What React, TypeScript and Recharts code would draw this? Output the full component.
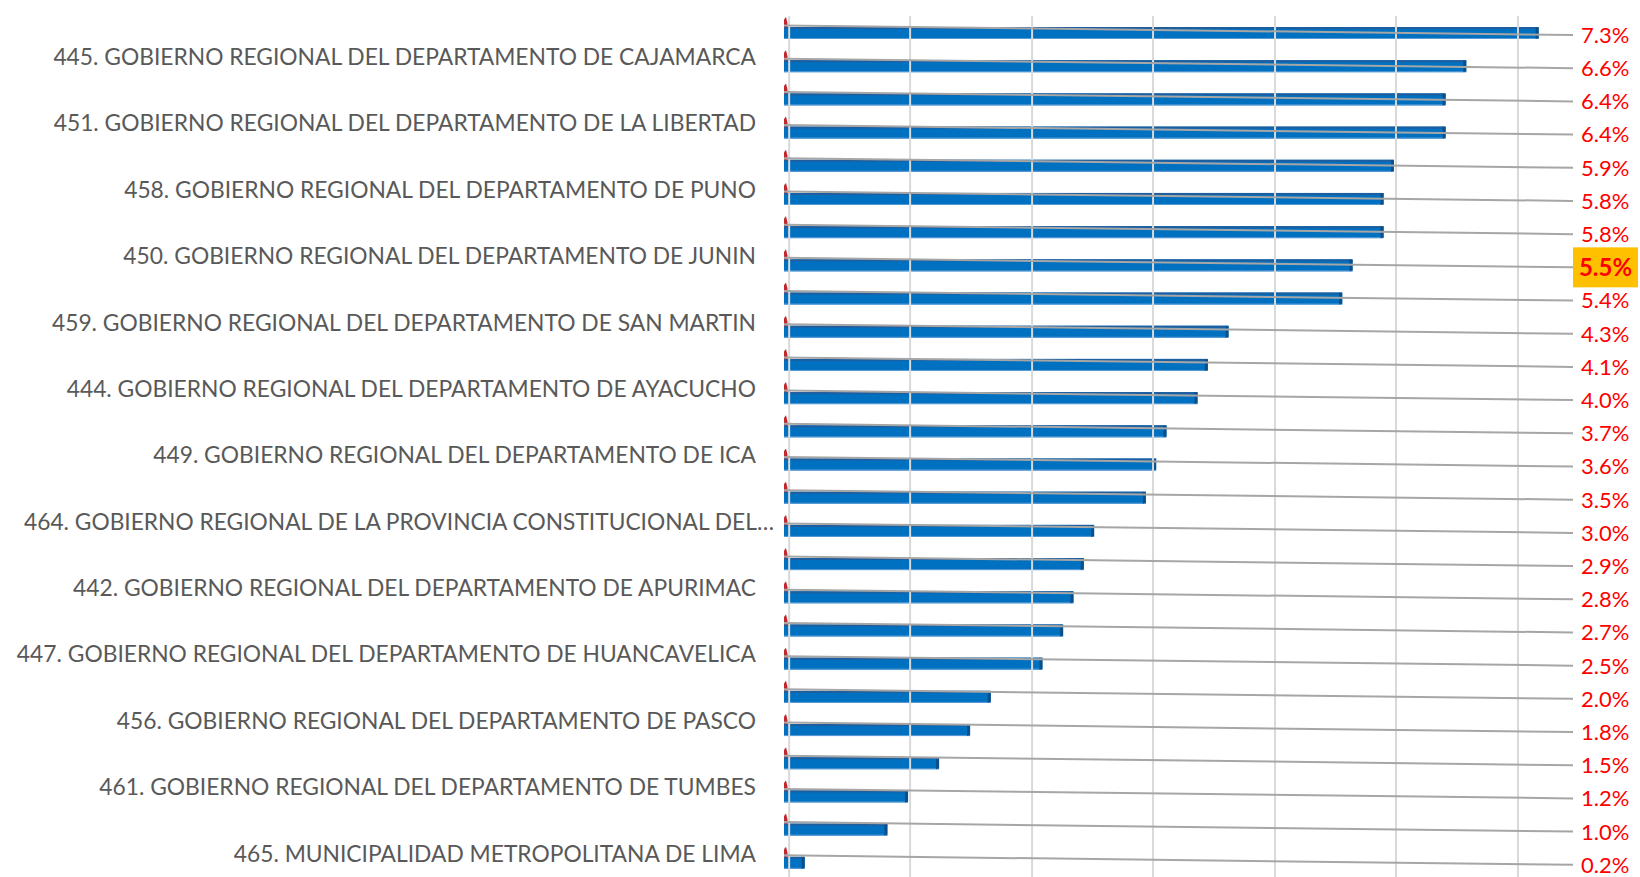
import React from "react";
import { BarChart, Bar, XAxis, YAxis, LabelList, ReferenceLine } from "recharts";

const categories: string[] = [
  "",
  "445. GOBIERNO REGIONAL DEL DEPARTAMENTO DE CAJAMARCA",
  "",
  "451. GOBIERNO REGIONAL DEL DEPARTAMENTO DE LA LIBERTAD",
  "",
  "458. GOBIERNO REGIONAL DEL DEPARTAMENTO DE PUNO",
  "",
  "450. GOBIERNO REGIONAL DEL DEPARTAMENTO DE JUNIN",
  "",
  "459. GOBIERNO REGIONAL DEL DEPARTAMENTO DE SAN MARTIN",
  "",
  "444. GOBIERNO REGIONAL DEL DEPARTAMENTO DE AYACUCHO",
  "",
  "449. GOBIERNO REGIONAL DEL DEPARTAMENTO DE ICA",
  "",
  "464. GOBIERNO REGIONAL DE LA PROVINCIA CONSTITUCIONAL DEL…",
  "",
  "442. GOBIERNO REGIONAL DEL DEPARTAMENTO DE APURIMAC",
  "",
  "447. GOBIERNO REGIONAL DEL DEPARTAMENTO DE HUANCAVELICA",
  "",
  "456. GOBIERNO REGIONAL DEL DEPARTAMENTO DE PASCO",
  "",
  "461. GOBIERNO REGIONAL DEL DEPARTAMENTO DE TUMBES",
  "",
  "465. MUNICIPALIDAD METROPOLITANA DE LIMA",
];

const values: number[] = [
  7.3, 6.6, 6.4, 6.4, 5.9, 5.8, 5.8, 5.5, 5.4, 4.3, 4.1, 4.0, 3.7, 3.6, 3.5,
  3.0, 2.9, 2.8, 2.7, 2.5, 2.0, 1.8, 1.5, 1.2, 1.0, 0.2,
];

const highlightCategory = "450. GOBIERNO REGIONAL DEL DEPARTAMENTO DE JUNIN";

const gridTicks: number[] = [0.05, 1.22, 2.4, 3.57, 4.75, 5.92, 7.1];

const data = categories.map((name, i) => ({ id: i, name, value: values[i] }));

const FONT = "Lato, 'Open Sans', sans-serif";
const LABEL_X = 1573;

const BarShape = (props: any) => {
  const { x, y, width, height } = props;
  if (width <= 0) return null;
  return (
    <g>
      <rect x={x} y={y} width={width} height={height} fill="#0070C0" />
      <rect x={x} y={y} width={width} height={2} fill="#1F5E9E" />
      <rect x={x} y={y + height - 1} width={width} height={1} fill="#5B9BD5" />
      <path
        d={`M${x + width - 3},${y} L${x + width},${y + 1} L${x + width},${y + height - 1} L${x + width - 3},${y + height} Z`}
        fill="#0B4F8A"
      />
      <path
        d={`M${x - 0.5},${y} L${x - 0.5},${y - 7} L${x + 2},${y - 10} L${x + 3.5},${y - 4} L${x + 3.5},${y} Z`}
        fill="#C0282D"
      />
    </g>
  );
};

const DataLabel = (props: any) => {
  const { x, y, height, value, index } = props;
  const cy = y + height / 2 + 2;
  const isHi = categories[index] === highlightCategory;
  const txt = `${Number(value).toFixed(1)}%`;
  return (
    <g>
      <line
        x1={x}
        y1={y - 1.5}
        x2={LABEL_X}
        y2={cy}
        stroke="#A6A6A6"
        strokeWidth={2}
      />
      {isHi ? (
        <g>
          <rect x={LABEL_X} y={cy - 20} width={65} height={40} fill="#FFC000" />
          <text
            x={LABEL_X + 32.5}
            y={cy}
            dy="0.36em"
            textAnchor="middle"
            fill="#FF0000"
            fontWeight="bold"
            fontSize={24}
            fontFamily={FONT}
          >
            {txt}
          </text>
        </g>
      ) : (
        <text
          x={LABEL_X + 8}
          y={cy}
          dy="0.36em"
          textAnchor="start"
          fill="#FF0000"
          fontSize={22}
          fontFamily={FONT}
        >
          {txt}
        </text>
      )}
    </g>
  );
};

const CatTick = (props: any) => {
  const { x, y, payload } = props;
  const label = categories[payload.index] ?? "";
  if (!label) return null;
  const truncated = label.endsWith("…");
  return (
    <text
      x={truncated ? x + 18 : x}
      y={y - 9}
      dy="0.36em"
      textAnchor="end"
      fill="#595959"
      fontSize={22.8}
      fontFamily={FONT}
      {...(truncated ? { textLength: 750, lengthAdjust: "spacingAndGlyphs" } : {})}
    >
      {label}
    </text>
  );
};

export default function App() {
  return (
    <div style={{ position: "absolute", left: 0, top: 0, width: 1640, height: 877, background: "#fff" }}>
      <BarChart
        width={1640}
        height={877}
        data={data}
        layout="vertical"
        margin={{ top: 16, right: 29, bottom: -2, left: 0 }}
      >
        <XAxis
          type="number"
          domain={[0, 8]}
          ticks={gridTicks}
          tick={false}
          axisLine={false}
          tickLine={false}
          height={0}
          allowDataOverflow
        />
        <YAxis
          type="category"
          dataKey="id"
          width={784}
          interval={0}
          tick={<CatTick />}
          tickSize={0}
          tickMargin={28}
          axisLine={false}
          tickLine={false}
        />
        {gridTicks.map((t) => (
          <ReferenceLine key={t} x={t} stroke="#D9D9D9" strokeWidth={2} ifOverflow="visible" />
        ))}
        <Bar dataKey="value" barSize={12} shape={<BarShape />} isAnimationActive={false}>
          <LabelList dataKey="value" content={<DataLabel />} />
        </Bar>
      </BarChart>
    </div>
  );
}
